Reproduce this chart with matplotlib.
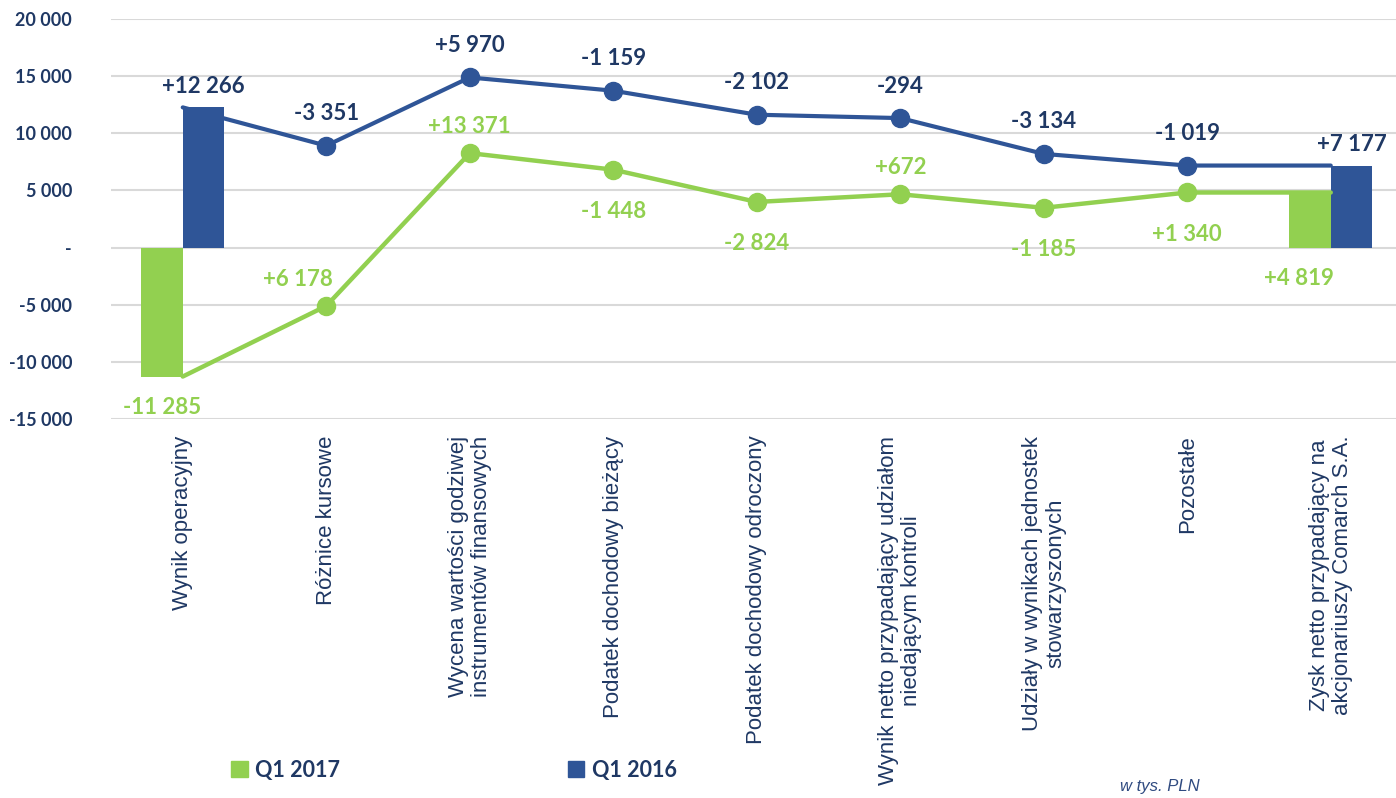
import numpy as np
import matplotlib.pyplot as plt
from matplotlib.patches import Patch
from matplotlib.ticker import FuncFormatter

# Categories and changes (w tys. PLN)
categories = [
    "Wynik operacyjny",
    "Różnice kursowe",
    "Wycena wartości godziwej\ninstrumentów finansowych",
    "Podatek dochodowy bieżący",
    "Podatek dochodowy odroczony",
    "Wynik netto przypadający udziałom\nniedającym kontroli",
    "Udziały w wynikach jednostek\nstowarzyszonych",
    "Pozostałe",
    "Zysk netto przypadający na\nakcjonariuszy Comarch S.A.",
]
# first value = starting bar, then the step changes, last = final result
q1_2017_steps = [-11285, 6178, 13371, -1448, -2824, 672, -1185, 1340]
q1_2017_total = 4819
q1_2016_steps = [12266, -3351, 5970, -1159, -2102, -294, -3134, -1019]
q1_2016_total = 7177

GREEN = '#92D050'
BLUE = '#2F5597'
NAVY = '#1F3864'

# label placement for green series (True = above the point)
green_above = [False, True, True, False, False, True, False, False, False]

plt.rcParams['font.family'] = ['Lato', 'DejaVu Sans']

fig = plt.figure(figsize=(13.96, 7.98), dpi=100)
ax = fig.add_axes([111 / 1396, 1 - 419 / 798, 1 - 111 / 1396, (419 - 19) / 798])

x = np.arange(len(categories))
g_cum = np.append(np.cumsum(q1_2017_steps), q1_2017_total)
b_cum = np.append(np.cumsum(q1_2016_steps), q1_2016_total)
bw = 0.29

# bars for start and end
for i in [0, len(x) - 1]:
    ax.bar(x[i] - bw / 2, g_cum[i], width=bw, color=GREEN, zorder=2)
    ax.bar(x[i] + bw / 2, b_cum[i], width=bw, color=BLUE, zorder=2)

# lines with markers on intermediate steps
mk = list(range(1, len(x) - 1))
ax.plot(x, b_cum, color=BLUE, lw=3, marker='o', ms=13, markevery=mk,
        solid_capstyle='round', zorder=3)
ax.plot(x, g_cum, color=GREEN, lw=3.2, marker='o', ms=13, markevery=mk,
        solid_capstyle='round', zorder=3)


def fmt_delta(v):
    return f"{v:+,}".replace(',', ' ')


last = len(x) - 1
all_g = q1_2017_steps + [q1_2017_total]
all_b = q1_2016_steps + [q1_2016_total]

# blue labels, all above
for i in range(len(x)):
    if i == 0 or i == last:
        px, py, off = x[i] + bw / 2, b_cum[i], 15
    else:
        px, py, off = x[i], b_cum[i], 23
    ax.annotate(fmt_delta(all_b[i]), (px, py), xytext=(0, off), textcoords='offset points',
                ha='center', va='center', fontsize=16, fontweight='bold', color=NAVY)

# green labels
for i in range(len(x)):
    if i == 0 or i == last:
        px, py = x[i] - bw / 2 - (0.08 if i == last else 0), min(0, g_cum[i])
        off = -22
    else:
        px, py = x[i], g_cum[i]
        off = 19 if green_above[i] else -30
    if i == 1:
        px -= 0.2
    ax.annotate(fmt_delta(all_g[i]), (px, py), xytext=(0, off), textcoords='offset points',
                ha='center', va='center', fontsize=16, fontweight='bold', color=GREEN)

ax.set_xlim(-0.5, -0.5 + (1396 - 111) / 143.5)
ax.set_ylim(-15000, 20000)
ax.set_yticks(np.arange(-15000, 20001, 5000))
ax.yaxis.set_major_formatter(FuncFormatter(
    lambda v, p: '-' if v == 0 else f"{v:,.0f}".replace(',', ' ')))
ax.tick_params(axis='y', length=0, pad=28, labelsize=13, labelcolor=NAVY)
for lab in ax.get_yticklabels():
    lab.set_fontweight('bold')
ax.grid(axis='y', color='#D9D9D9', lw=1.5, zorder=0)
ax.set_axisbelow(True)
for s in ax.spines.values():
    s.set_visible(False)

ax.set_xticks(x)
ax.set_xticklabels(categories, rotation=90, fontsize=16, color=NAVY,
                   family=['Liberation Sans', 'DejaVu Sans'], multialignment='center',
                   linespacing=1.15)
ax.tick_params(axis='x', length=0, pad=12)

handles = [Patch(color=GREEN, label='Q1 2017'), Patch(color=BLUE, label='Q1 2016')]
leg = fig.legend(handles=handles, loc='center left', bbox_to_anchor=(212 / 1396, 0.035),
                 ncol=2, frameon=False, handlelength=0.75, handleheight=0.75,
                 handletextpad=0.35, columnspacing=10.6,
                 prop={'weight': 'bold', 'size': 15.5})
for t in leg.get_texts():
    t.set_color(NAVY)

fig.text(1200 / 1396, 0.014, 'w tys. PLN', ha='right', va='center', fontsize=12,
         style='italic', color='#2F4A80', family=['Liberation Sans', 'DejaVu Sans'])

fig.savefig('out.png', dpi=100)
